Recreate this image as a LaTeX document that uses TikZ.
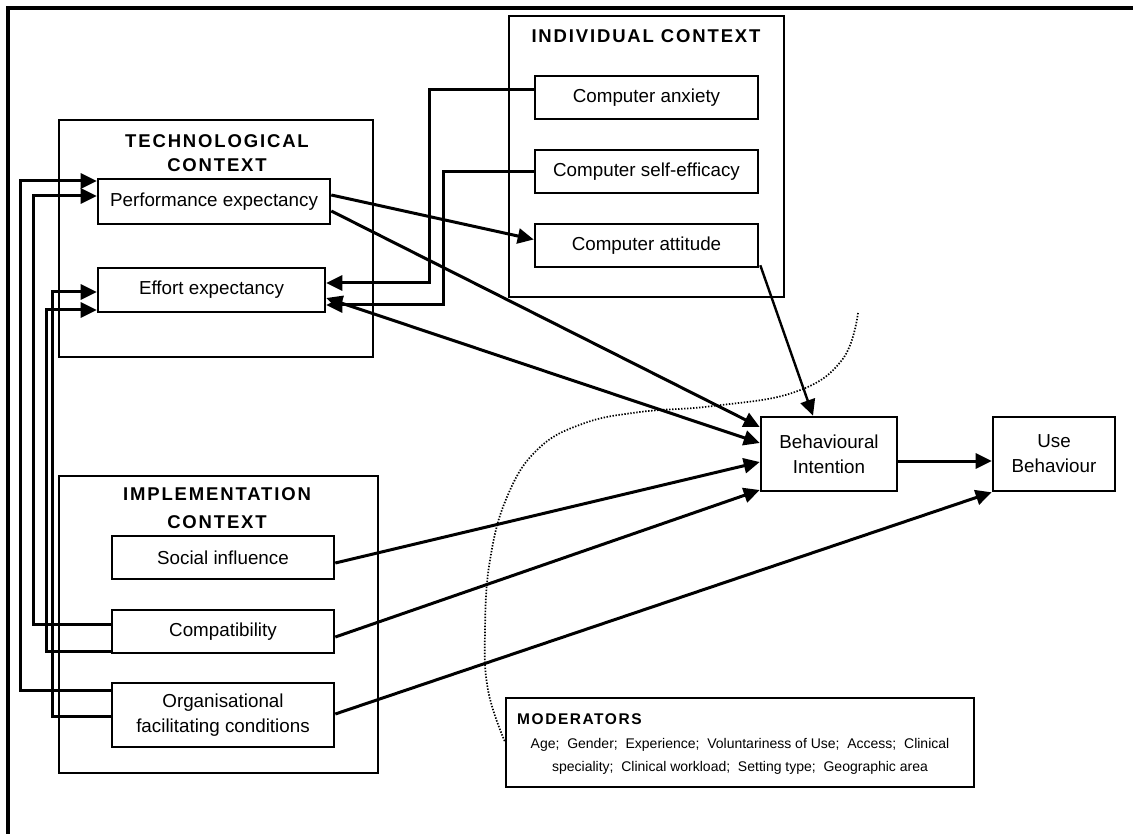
\documentclass[tikz,border=0pt]{standalone}
\usepackage{fontspec}
\setmainfont{Liberation Sans}
\newfontfamily\spacedfont[LetterSpace=10]{Liberation Sans}
\usetikzlibrary{arrows.meta,calc}

\begin{document}
\begin{tikzpicture}[x=1pt,y=-1pt,
  ctx/.style={draw, line width=2pt, inner sep=0pt},
  box/.style={draw, line width=2.6pt, inner sep=0pt, align=center,
              font=\fontsize{18.8}{25}\selectfont},
  head/.style={inner sep=0pt, align=center,
               font=\spacedfont\bfseries\fontsize{18.5}{24}\selectfont},
  link/.style={line width=3pt, line join=miter},
  tip/.style={-{Triangle[length=16pt,width=15pt]}},
  both/.style={{Triangle[length=16pt,width=15pt]}-{Triangle[length=16pt,width=15pt]}},
]
\useasboundingbox (0,0) rectangle (1133,834);

% frame
\draw[line width=3.2pt] (8,834) -- (8,8) -- (1133,8);

% context groups
\node[ctx, minimum width=314pt, minimum height=237pt] (techbox) at (216,238.5) {};
\node[ctx, minimum width=319pt, minimum height=297pt] (implbox) at (218.5,624.5) {};
\node[ctx, minimum width=275pt, minimum height=281pt] (indbox) at (646.5,156.5) {};

\node[head] (techhead) at (217,153.5) {TECHNOLOGICAL\\CONTEXT};
\node[head, font=\spacedfont\bfseries\fontsize{18.5}{28}\selectfont] (implhead) at (217,508) {IMPLEMENTATION\\CONTEXT};
\node[head] (indhead) at (646,36) {INDIVIDUAL CONTEXT};

% constructs
\node[box, minimum width=232pt, minimum height=45pt] (perf) at (214,201.5) {Performance expectancy};
\node[box, minimum width=227pt, minimum height=44pt] (effort) at (211.5,290) {Effort expectancy};
\node[box, minimum width=223pt, minimum height=43pt] (anx) at (646.5,97.5) {Computer anxiety};
\node[box, minimum width=223pt, minimum height=43pt] (selfeff) at (646.5,171.5) {Computer self-efficacy};
\node[box, minimum width=223pt, minimum height=43pt] (att) at (646.5,245.5) {Computer attitude};
\node[box, minimum width=222pt, minimum height=43pt] (social) at (223,557.5) {Social influence};
\node[box, minimum width=222pt, minimum height=43pt] (compat) at (223,631.5) {Compatibility};
\node[box, minimum width=222pt, minimum height=64pt] (org) at (223,715) {Organisational\\facilitating conditions};
\node[box, minimum width=136pt, minimum height=74pt] (bi) at (829,454) {Behavioural\\Intention};
\node[box, minimum width=122pt, minimum height=74pt] (use) at (1054,454) {Use\\Behaviour};

% moderators
\node[box, minimum width=468pt, minimum height=89pt] (mod) at (740,742.5) {};
\node[head, anchor=west, font=\spacedfont\bfseries\fontsize{15.5}{20}\selectfont] (modhead) at (517,719) {MODERATORS};
\node[inner sep=0pt, align=center, font=\fontsize{14}{23}\selectfont] (modtext) at (740,756)
  {Age;~ Gender;~ Experience;~ Voluntariness of Use;~ Access;~ Clinical\\
   speciality;~ Clinical workload;~ Setting type;~ Geographic area};

% moderating region
\draw[line width=1.7pt, dash pattern=on 1.4pt off 1.6pt] plot[smooth, tension=0.7] coordinates {
  (858,313) (842,360) (795,392) (713,406) (640,412) (582,424) (537,450)
  (507,497) (490,560) (485,630) (488,690) (505,742)};

% feedback routes on the left
\draw[link, tip] ($(org.west)+(0,-25)$) -- ++(-90,0) |- ($(perf.west)+(0,-20.5)$);
\draw[link, tip] ($(compat.west)+(0,-7.5)$) -- ++(-77,0) |- ($(perf.west)+(0,-5.5)$);
\draw[link, tip] ($(org.west)+(0,1)$) -- ++(-58,0) |- ($(effort.west)+(0,2)$);
\draw[link, tip] ($(compat.west)+(0,20)$) -- ++(-64,0) |- ($(effort.west)+(0,20)$);

% individual context into effort expectancy
\draw[link, tip] ($(anx.west)+(0,-7.5)$) -- ++(-104,0) |- ($(effort.east)+(0,-7)$);
\draw[link, tip] (selfeff.west) -- ++(-90,0) |- ($(effort.east)+(0,15)$);

% paths to intention and use
\draw[link, tip] ($(perf.east)+(0,-6.5)$) -- ($(att.west)+(0,-6)$);
\draw[link, tip] ($(perf.east)+(0,9.5)$) -- ($(bi.west)+(0,-27)$);
\draw[link, both] ($(effort.east)+(0,8)$) -- ($(bi.west)+(0,-11)$);
\draw[link, tip] ($(social.east)+(0,5.5)$) -- ($(bi.west)+(0,8)$);
\draw[link, tip] ($(compat.east)+(0,5.5)$) -- ($(bi.west)+(0,36)$);
\draw[link, tip] ($(org.east)+(0,-1)$) -- (use.south west);
\draw[line width=2.4pt, tip] ($(att.south east)+(1,-3)$) -- ($(bi.north)+(-16,0)$);
\draw[link, tip] ($(bi.east)+(0,7)$) -- ($(use.west)+(0,7)$);

\end{tikzpicture}
\end{document}
